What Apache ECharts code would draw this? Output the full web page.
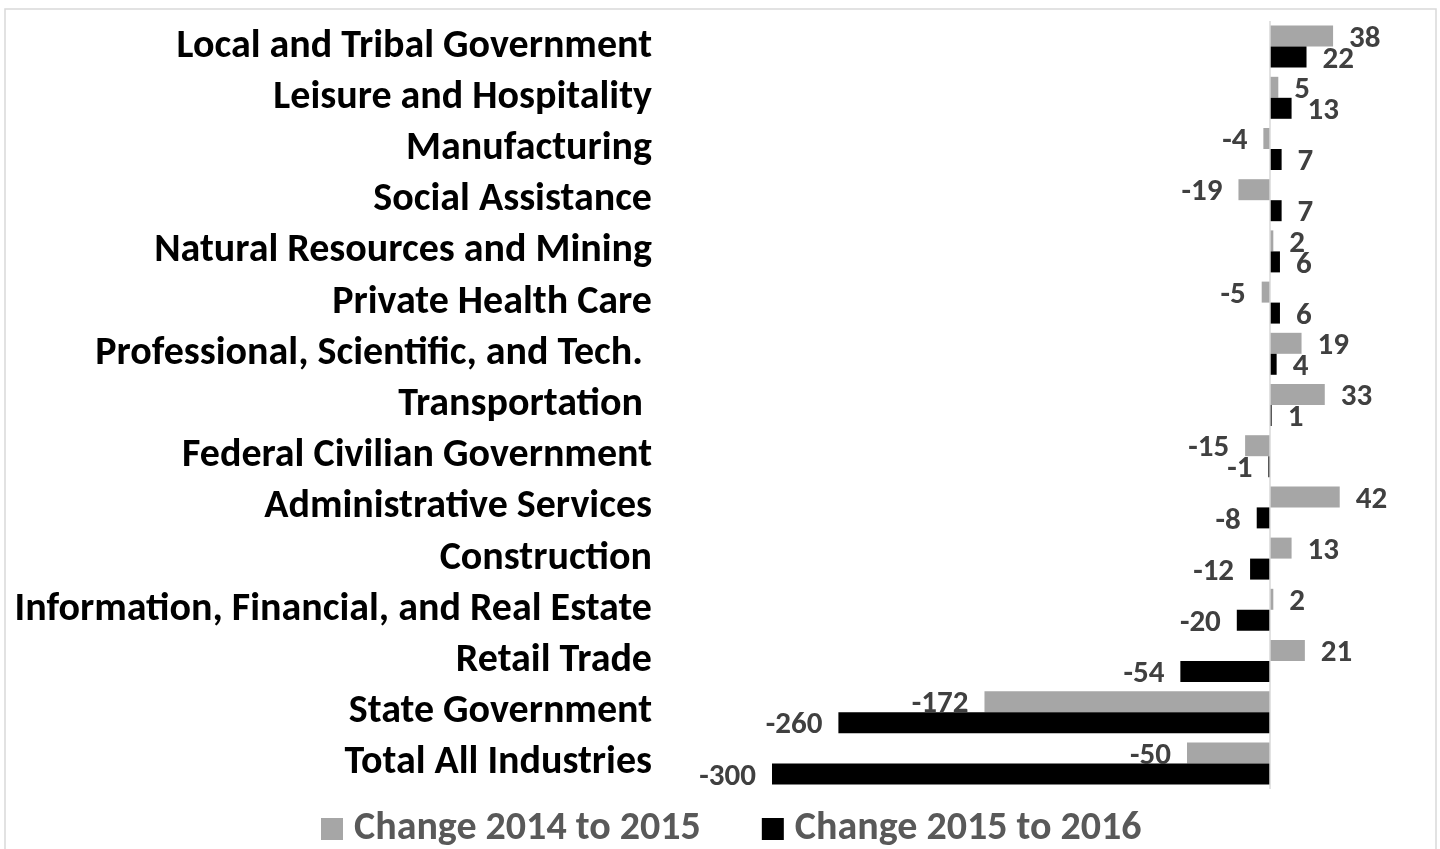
<!DOCTYPE html>
<html><head><meta charset="utf-8">
<script src="https://cdn.jsdelivr.net/npm/echarts@6/dist/echarts.min.js"></script>
<style>html,body{margin:0;padding:0;background:#fff}#c{width:1440px;height:849px}</style>
</head><body><div id="c"></div>
<script>
const categories = ["Local and Tribal Government","Leisure and Hospitality","Manufacturing","Social Assistance","Natural Resources and Mining","Private Health Care","Professional, Scientific, and Tech. ","Transportation ","Federal Civilian Government","Administrative Services","Construction","Information, Financial, and Real Estate","Retail Trade","State Government","Total All Industries"];
const change2014to2015 = [38,5,-4,-19,2,-5,19,33,-15,42,13,2,21,-172,-50];
const change2015to2016 = [22,13,7,7,6,6,4,1,-1,-8,-12,-20,-54,-260,-300];
const seriesNames = ["Change 2014 to 2015","Change 2015 to 2016"];

const FONT = "Carlito, 'Liberation Sans Narrow', 'Open Sans', sans-serif";
function items(arr){return arr.map(v=>({value:v,label:{position:v<0?'left':'right'}}));}
const labelStyle = {show:true,color:'#404040',fontWeight:'bold',fontSize:31,fontFamily:FONT,distance:16,offset:[0,3]};

const chart = echarts.init(document.getElementById('c'));
chart.setOption({
  animation:false,
  graphic:[{type:'rect',shape:{x:5,y:9,width:1431,height:860},style:{fill:'none',stroke:'#d9d9d9',lineWidth:1.5},silent:true}],
  legend:{top:804,left:316,itemWidth:22,itemHeight:22,itemGap:61,icon:'rect',
    textStyle:{color:'#595959',fontWeight:'bold',fontSize:40,fontFamily:FONT,padding:[0,0,0,6]},data:seriesNames},
  grid:{left:689,right:4,top:21,bottom:60,containLabel:false},
  xAxis:{type:'value',min:-350,max:100,show:false,splitLine:{show:false}},
  yAxis:{type:'category',inverse:true,data:categories,axisLine:{show:false},axisTick:{show:false},
    axisLabel:{interval:0,margin:37,color:'#000',fontWeight:'bold',fontSize:40,fontFamily:FONT,padding:[6,0,0,0]}},
  series:[
    {name:seriesNames[0],type:'bar',data:items(change2014to2015),itemStyle:{color:'#a6a6a6'},barGap:'0%',barCategoryGap:'18%',label:labelStyle,
     markLine:{silent:true,symbol:'none',label:{show:false},lineStyle:{color:'#d9d9d9',width:1.5,type:'solid'},data:[{xAxis:0}]}},
    {name:seriesNames[1],type:'bar',data:items(change2015to2016),itemStyle:{color:'#000'},barGap:'0%',barCategoryGap:'18%',label:labelStyle}
  ]
});
</script></body></html>
